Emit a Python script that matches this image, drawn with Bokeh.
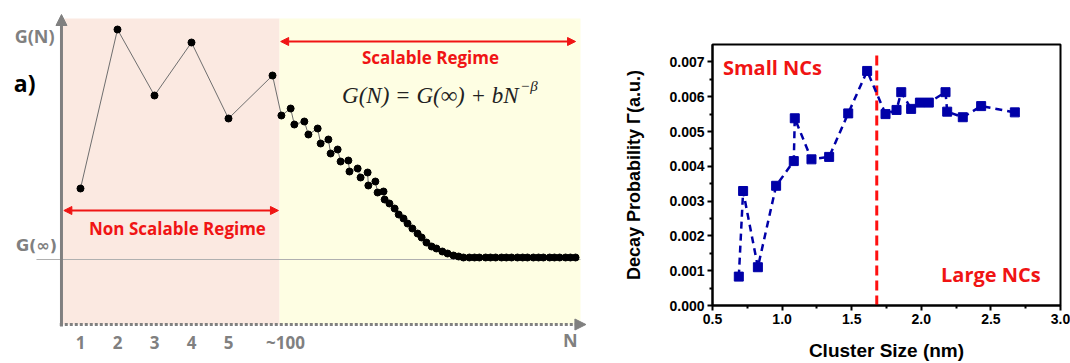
from bokeh.plotting import figure
from bokeh.layouts import row
from bokeh.models import Arrow, NormalHead, Label, Range1d, FixedTicker, NumeralTickFormatter
from bokeh.core.properties import value
from bokeh.embed import file_html
from bokeh.resources import INLINE

# ---------------- Panel a) (schematic) data ----------------
a_tick_pos = [1, 2, 3, 4, 5, 6.54]
a_tick_labels = ["1", "2", "3", "4", "5", "~100"]
a_n = [1.0, 2.0, 3.0, 4.0, 5.0, 6.19,
       6.43, 6.68, 6.78, 7.05, 7.16, 7.41, 7.49, 7.70, 7.76, 7.95,
       8.03, 8.24, 8.27, 8.49, 8.57, 8.76, 8.78, 8.97, 9.03, 9.19,
       9.22, 9.35, 9.49, 9.60, 9.73, 9.84, 9.97, 10.11, 10.22, 10.35,
       10.49, 10.62, 10.78, 10.92, 11.08, 11.22, 11.35, 11.51, 11.65, 11.78,
       11.95, 12.08, 12.22, 12.38, 12.51, 12.65, 12.81, 12.95, 13.08, 13.24,
       13.38, 13.51, 13.68, 13.81, 13.95, 14.11, 14.24, 14.38]
a_g = [13.6, 29.5, 22.9, 28.2, 20.6, 24.9,
       20.9, 21.6, 20.0, 20.3, 19.0, 19.6, 18.1, 18.5, 17.1, 17.5,
       16.3, 16.4, 15.3, 15.6, 14.7, 15.2, 13.9, 14.3, 13.2, 13.3,
       12.5, 12.1, 11.6, 11.0, 10.6, 10.1, 9.6, 9.1, 8.7, 8.2,
       7.8, 7.6, 7.3, 7.1, 6.9, 6.8, 6.7, 6.7, 6.7, 6.7,
       6.7, 6.7, 6.7, 6.7, 6.7, 6.7, 6.7, 6.7, 6.7, 6.7,
       6.7, 6.7, 6.7, 6.7, 6.7, 6.7, 6.7, 6.7]
g_inf = 6.5
regime_boundary = 6.38

# ---------------- Panel b) data ----------------
b_size = [0.689, 0.720, 0.826, 0.957, 1.084, 1.091, 1.211, 1.338, 1.475, 1.611,
          1.743, 1.822, 1.856, 1.927, 1.990, 2.054, 2.174, 2.186, 2.298, 2.430, 2.672]
b_gamma = [0.00083, 0.00329, 0.00110, 0.00344, 0.00415, 0.00538, 0.00420, 0.00427,
           0.00552, 0.00674, 0.00550, 0.00562, 0.00613, 0.00565, 0.00583, 0.00583,
           0.00613, 0.00557, 0.00541, 0.00573, 0.00555]
b_boundary = 1.68
b_xticks = [0.5, 1.0, 1.5, 2.0, 2.5, 3.0]
b_yticks = [0.0, 0.001, 0.002, 0.003, 0.004, 0.005, 0.006, 0.007]

GRAY = "#808080"
RED = "#f01414"
BLUE = "#0000a8"

# ================= Panel a =================
p1 = figure(width=594, height=363, x_range=Range1d(-1.162, 14.892), y_range=Range1d(-3.9, 32.4),
            output_backend="svg", toolbar_location=None, min_border=0,
            x_axis_location=None, y_axis_location=None)
p1.frame_align = False
p1.outline_line_color = None
p1.grid.visible = False

p1.quad(left=[0.514], right=[regime_boundary], bottom=[0], top=[30.6], fill_color="#fbe9e1", line_color=None)
p1.quad(left=[regime_boundary], right=[14.514], bottom=[0], top=[30.6], fill_color="#fefee3", line_color=None)

p1.segment(x0=[-0.19], y0=[g_inf], x1=[14.514], y1=[g_inf], line_color="#b0b0b0", line_width=1)

p1.line(a_n, a_g, line_color="#6e6e6e", line_width=1)
p1.scatter(a_n, a_g, size=7, fill_color="black", line_color="black")

# axes (schematic)
p1.add_layout(Arrow(x_start=0.486, y_start=-0.2, x_end=0.486, y_end=31.0, line_color=GRAY, line_width=3,
                    end=NormalHead(size=11, fill_color=GRAY, line_color=GRAY, line_width=1)))
p1.add_layout(Arrow(x_start=0.44, y_start=0, x_end=14.66, y_end=0, line_color=GRAY, line_width=3,
                    line_dash="3 2",
                    end=NormalHead(size=11, fill_color=GRAY, line_color=GRAY, line_width=1)))

p1.text(x=a_tick_pos, y=[-1.8] * len(a_tick_pos), text=a_tick_labels, text_font=value("Open Sans"),
        text_font_style="bold", text_font_size="17px", text_color=GRAY,
        text_align="center", text_baseline="middle")

def lab(p, x, y, t, size, color, align="center", style="bold", font="Open Sans"):
    p.add_layout(Label(x=x, y=y, text=t, text_font=font, text_font_style=style,
                       text_font_size=size, text_color=color, text_align=align, text_baseline="middle"))

lab(p1, 14.24, -1.5, "N", "18px", GRAY)
lab(p1, -0.24, 28.9, "G(N)", "18px", GRAY, font="Noto Sans")
lab(p1, -0.19, 7.9, "G(∞)", "16px", GRAY, font="DejaVu Sans")
lab(p1, -0.51, 24.2, "a)", "23px", "black")

# regime arrows
p1.add_layout(Arrow(x_start=6.41, y_start=28.3, x_end=14.38, y_end=28.3, line_color=RED, line_width=2,
                    start=NormalHead(size=8, fill_color=RED, line_color=RED),
                    end=NormalHead(size=8, fill_color=RED, line_color=RED)))
p1.add_layout(Arrow(x_start=0.55, y_start=11.4, x_end=6.35, y_end=11.4, line_color=RED, line_width=2,
                    start=NormalHead(size=8, fill_color=RED, line_color=RED),
                    end=NormalHead(size=8, fill_color=RED, line_color=RED)))
lab(p1, 10.46, 26.7, "Scalable Regime", "17px", RED)
lab(p1, 3.62, 9.6, "Non Scalable Regime", "17px", RED)

# equation
lab(p1, 12.84, 22.9, "G(N) = G(∞) + bN", "23px", "#222222", align="right", style="italic",
    font="Liberation Serif")
lab(p1, 12.88, 23.9, "−β", "15px", "#222222", align="left", style="italic",
    font="Liberation Serif")

# ================= Panel b =================
p2 = figure(width=476, height=363, x_range=Range1d(0.5, 3.0), y_range=Range1d(0, 0.0075),
            output_backend="svg", toolbar_location=None,
            min_border_left=118, min_border_right=10, min_border_top=44, min_border_bottom=58)
p2.frame_align = False
p2.grid.visible = False
p2.outline_line_color = "black"
p2.outline_line_width = 2

p2.segment(x0=[b_boundary], y0=[0], x1=[b_boundary], y1=[0.00724], line_color="#ff1010", line_width=3,
           line_dash="10 5")
p2.line(b_size, b_gamma, line_color=BLUE, line_width=2.5, line_dash="7 5")
p2.scatter(b_size, b_gamma, marker="square", size=9, fill_color=BLUE, line_color=BLUE)

for ax in (p2.xaxis[0], p2.yaxis[0]):
    ax.axis_line_width = 2
    ax.axis_line_color = "black"
    ax.major_tick_line_width = 2
    ax.minor_tick_line_width = 2
    ax.major_tick_out = 5
    ax.major_tick_in = 0
    ax.minor_tick_out = 3
    ax.minor_tick_in = 0
    ax.major_label_text_font = "Liberation Sans"
    ax.major_label_text_font_style = "bold"
    ax.major_label_text_font_size = "14px"
    ax.major_label_text_color = "black"
    ax.axis_label_text_font = "Liberation Sans"
    ax.axis_label_text_font_style = "bold"
    ax.axis_label_text_color = "black"
    ax.major_label_standoff = 3

p2.xaxis.ticker = FixedTicker(ticks=b_xticks, minor_ticks=[0.75, 1.25, 1.75, 2.25, 2.75])
p2.yaxis.ticker = FixedTicker(ticks=b_yticks,
                              minor_ticks=[0.0005, 0.0015, 0.0025, 0.0035, 0.0045, 0.0055, 0.0065])
p2.xaxis.formatter = NumeralTickFormatter(format="0.0")
p2.yaxis.formatter = NumeralTickFormatter(format="0.000")
p2.xaxis.axis_label = "Cluster Size (nm)"
p2.yaxis.axis_label = "Decay Probability Γ(a.u.)"
p2.xaxis.axis_label_text_font_size = "19px"
p2.yaxis.axis_label_text_font_size = "18px"
p2.xaxis.axis_label_standoff = 13
p2.yaxis.axis_label_standoff = 22

lab(p2, 0.931, 0.00684, "Small NCs", "20px", RED)
lab(p2, 2.5, 0.00088, "Large NCs", "20px", RED)
lab(p2, -0.247, 0.00641, "b)", "23px", "black")

layout = row(p1, p2, spacing=0)
open("out.html", "w").write(file_html(layout, INLINE))
